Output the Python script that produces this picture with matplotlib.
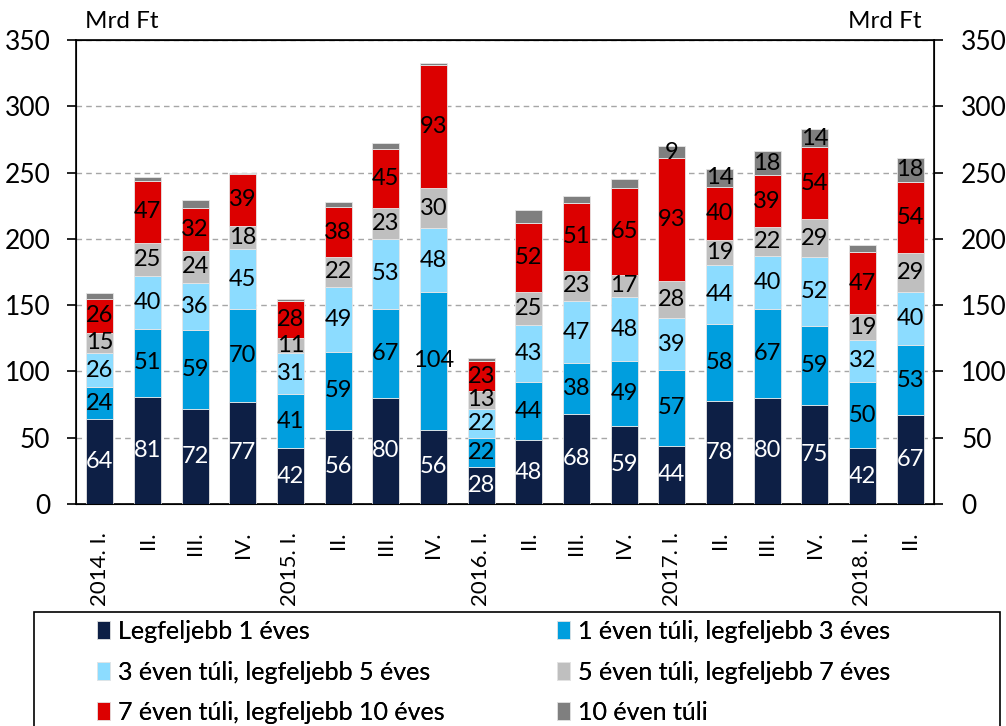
import matplotlib.pyplot as plt
import numpy as np
from matplotlib.patches import Rectangle

plt.rcParams['font.family'] = ['Lato', 'DejaVu Sans']

quarters = ["2014. I.", "II.", "III.", "IV.", "2015. I.", "II.", "III.", "IV.",
            "2016. I.", "II.", "III.", "IV.", "2017. I.", "II.", "III.", "IV.",
            "2018. I.", "II."]

legf_1 = [64, 81, 72, 77, 42, 56, 80, 56, 28, 48, 68, 59, 44, 78, 80, 75, 42, 67]
ev_1_3 = [24, 51, 59, 70, 41, 59, 67, 104, 22, 44, 38, 49, 57, 58, 67, 59, 50, 53]
ev_3_5 = [26, 40, 36, 45, 31, 49, 53, 48, 22, 43, 47, 48, 39, 44, 40, 52, 32, 40]
ev_5_7 = [15, 25, 24, 18, 11, 22, 23, 30, 13, 25, 23, 17, 28, 19, 22, 29, 19, 29]
ev_7_10 = [26, 47, 32, 39, 28, 38, 45, 93, 23, 52, 51, 65, 93, 40, 39, 54, 47, 54]
ev_10 = [4, 3, 6, 1, 2, 4, 4, 2, 2, 10, 5, 7, 9, 14, 18, 14, 5, 18]
# the reference only prints the "10 éven túli" values from 2017 on
ev_10_shown = [False] * 12 + [True, True, True, True, False, True]

series = [legf_1, ev_1_3, ev_3_5, ev_5_7, ev_7_10, ev_10]
names = ["Legfeljebb 1 éves", "1 éven túli, legfeljebb 3 éves",
         "3 éven túli, legfeljebb 5 éves", "5 éven túli, legfeljebb 7 éves",
         "7 éven túli, legfeljebb 10 éves", "10 éven túli"]
colors = ["#0d1f45", "#009ede", "#8cdcff", "#bfbfbf", "#dc0000", "#7f7f7f"]
text_colors = ["white", "black", "black", "black", "black", "black"]

W, H = 1006, 726
fig = plt.figure(figsize=(W / 100, H / 100), dpi=100)
ax = fig.add_axes([76 / W, 1 - 504 / H, 858 / W, 464 / H])

x = np.arange(len(quarters))
bottom = np.zeros(len(quarters))
handles = []
for k, (vals, name, col, tc) in enumerate(zip(series, names, colors, text_colors)):
    vals = np.array(vals, dtype=float)
    b = ax.bar(x, vals, 0.56, bottom=bottom, color=col, edgecolor="#e6e6e6",
               linewidth=0.6, label=name, zorder=3)
    handles.append(b)
    for i, (xi, v, bt) in enumerate(zip(x, vals, bottom)):
        show = ev_10_shown[i] if k == 5 else True
        if show:
            ax.text(xi, bt + v / 2, f"{int(v)}", ha="center", va="center",
                    color=tc, fontsize=17, zorder=4)
    bottom += vals

ax.set_xlim(-0.5, len(quarters) - 0.5)
ax.set_ylim(0, 350)
ax.set_yticks(range(0, 351, 50))
ax.yaxis.grid(True, linestyle=(0, (4, 3)), color="#a6a6a6", linewidth=1, zorder=0)
ax.set_xticks(x)
ax.set_xticklabels(quarters, rotation=90, fontsize=16)
ax.tick_params(axis="x", length=0, pad=20)
ax.tick_params(axis="y", labelsize=19, direction="out", length=6.5, width=1.2,
               pad=12)
for s in ["left", "right", "bottom", "top"]:
    ax.spines[s].set_linewidth(1.2)

ax2 = ax.twinx()
ax2.set_ylim(0, 350)
ax2.set_yticks(range(0, 351, 50))
ax2.tick_params(axis="y", labelsize=19, direction="out", length=6.5, width=1.2,
                pad=13)

fig.text(85 / W, 1 - 22 / H, "Mrd Ft", fontsize=17.5, va="center")
fig.text(848 / W, 1 - 22 / H, "Mrd Ft", fontsize=17.5, va="center")

# legend frame (runs off the bottom edge as in the reference)
fig.patches.append(Rectangle((34 / W, -0.05), 966 / W, 0.05 + 1 - 612 / H,
                             transform=fig.transFigure, fill=False,
                             edgecolor="black", linewidth=1.2))

# row-wise layout: left column and right column as two legends
leg_kw = dict(loc="upper left", fontsize=18, frameon=False, handlelength=0.52,
              handleheight=0.72, handletextpad=0.32, labelspacing=0.7,
              borderpad=0, borderaxespad=0)
for col, x0 in [([0, 2, 4], 97), ([1, 3, 5], 557)]:
    leg = fig.legend(handles=[handles[i] for i in col],
                     labels=[names[i] for i in col],
                     bbox_to_anchor=(x0 / W, 1 - 620 / H), **leg_kw)
    fig.add_artist(leg)

fig.savefig("out.png", dpi=100)
